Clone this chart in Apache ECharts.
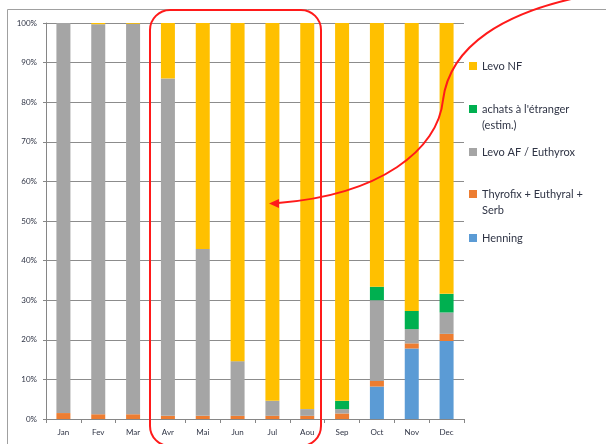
<!DOCTYPE html>
<html>
<head>
<meta charset="utf-8">
<script src="https://cdn.jsdelivr.net/npm/echarts@6/dist/echarts.min.js"></script>
<style>
  html, body { margin: 0; padding: 0; background: #fff; }
  #chart { width: 606px; height: 444px; }
</style>
</head>
<body>
<div id="chart"></div>
<script>
'use strict';
{
    // months (French abbreviations as in the source slide)
    const months = ['Jan', 'Fev', 'Mar', 'Avr', 'Mai', 'Jun', 'Jul', 'Aou', 'Sep', 'Oct', 'Nov', 'Dec'];

    // market share in %, stacked bottom -> top
    const henning  = [0, 0, 0, 0, 0, 0, 0, 0, 0, 8.2, 17.8, 19.7];
    const thyrofix = [1.5, 1.2, 1.2, 0.8, 0.8, 0.8, 0.8, 0.8, 1.4, 1.4, 1.3, 1.8];
    const levoAF   = [98.5, 98.5, 98.6, 85.2, 42.1, 13.8, 3.8, 1.7, 1.1, 20.4, 3.6, 5.4];
    const achats   = [0, 0, 0, 0, 0, 0, 0, 0, 2.1, 3.4, 4.6, 4.7];
    const levoNF   = [0, 0.3, 0.2, 14, 57.1, 85.4, 95.4, 97.5, 95.4, 66.6, 72.7, 68.4];

    // legend labels; the second line of the long ones is drawn under the entry
    const names = {
        nf: 'Levo NF',
        achats: "achats à l'étranger",
        af: 'Levo AF / Euthyrox',
        thyro: 'Thyrofix + Euthyral +',
        henning: 'Henning'
    };
    const secondLines = { achats: '(estim.)', thyro: 'Serb' };

    let dom = document.getElementById('chart');
    let myChart = echarts.init(dom, null, { renderer: 'canvas' });

    const font = 'Lato';
    const txt = '#2f3445';
    const red = '#ff1a1a';

    function bar(name, data, color) {
        return {
            name: name,
            type: 'bar',
            stack: 'total',
            barWidth: 14,
            data: data,
            itemStyle: { color: color },
            emphasis: { disabled: true }
        };
    }

    // one legend per entry so the uneven spacing of the slide can be kept
    function legendAt(name, centerY) {
        return {
            data: [name],
            left: 464,
            top: centerY - 13,
            itemWidth: 8,
            itemHeight: 8,
            selectedMode: false,
            icon: 'rect',
            textStyle: { fontFamily: font, fontSize: 11, color: txt, lineHeight: 16 }
        };
    }

    function extraLine(text, centerY) {
        return {
            type: 'text',
            x: 482,
            y: centerY,
            style: { text: text, font: '11px ' + font, fill: txt, verticalAlign: 'middle' }
        };
    }

    let option = {
        animation: false,
        backgroundColor: '#fff',
        grid: { left: 46, right: 142, top: 23, bottom: 25 },
        legend: [
            legendAt(names.nf, 66),
            legendAt(names.achats, 109),
            legendAt(names.af, 152),
            legendAt(names.thyro, 194),
            legendAt(names.henning, 238)
        ],
        xAxis: {
            type: 'category',
            data: months,
            axisLine: { lineStyle: { color: '#868686' } },
            axisTick: { show: true, length: 4, lineStyle: { color: '#868686' } },
            axisLabel: { fontFamily: font, fontSize: 8, color: txt, margin: 9 }
        },
        yAxis: {
            type: 'value',
            min: 0,
            max: 100,
            interval: 10,
            axisLine: { show: true, lineStyle: { color: '#868686' } },
            axisTick: { show: true, length: 3, lineStyle: { color: '#868686' } },
            axisLabel: { fontFamily: font, fontSize: 8, color: txt, margin: 9, formatter: '{value}%' },
            splitLine: { lineStyle: { color: '#8c8c8c', width: 1 } }
        },
        series: [
            bar(names.henning, henning, '#5b9bd5'),
            bar(names.thyro, thyrofix, '#ed7d31'),
            bar(names.af, levoAF, '#a5a5a5'),
            bar(names.achats, achats, '#00b050'),
            bar(names.nf, levoNF, '#ffc000')
        ],
        graphic: [
            // slide frame
            {
                type: 'rect', z: -1,
                shape: { x: 7.5, y: 9.5, width: 620, height: 460 },
                style: { fill: null, stroke: '#a0a0a0', lineWidth: 1 }
            },
            extraLine(secondLines.achats, 125),
            extraLine(secondLines.thyro, 210),
            // red highlight box Avr-Aou
            {
                type: 'rect', z: 100,
                shape: { x: 150, y: 10, width: 171, height: 436, r: 20 },
                style: { fill: null, stroke: red, lineWidth: 2 }
            },
            // curved arrow, two pieces
            {
                type: 'bezierCurve', z: 100,
                shape: { x1: 585, y1: -4, cpx1: 505, cpy1: 12, cpx2: 450, cpy2: 45, x2: 443, y2: 100 },
                style: { fill: null, stroke: red, lineWidth: 2 }
            },
            {
                type: 'bezierCurve', z: 100,
                shape: { x1: 443, y1: 100, cpx1: 438, cpy1: 150, cpx2: 380, cpy2: 195, x2: 278, y2: 203 },
                style: { fill: null, stroke: red, lineWidth: 2 }
            },
            {
                type: 'polygon', z: 100,
                shape: { points: [[269, 203.5], [279, 199], [279, 208]] },
                style: { fill: red }
            }
        ]
    };

    if (option && typeof option === 'object') {
        myChart.setOption(option, true);
    }
}
</script>
</body>
</html>
